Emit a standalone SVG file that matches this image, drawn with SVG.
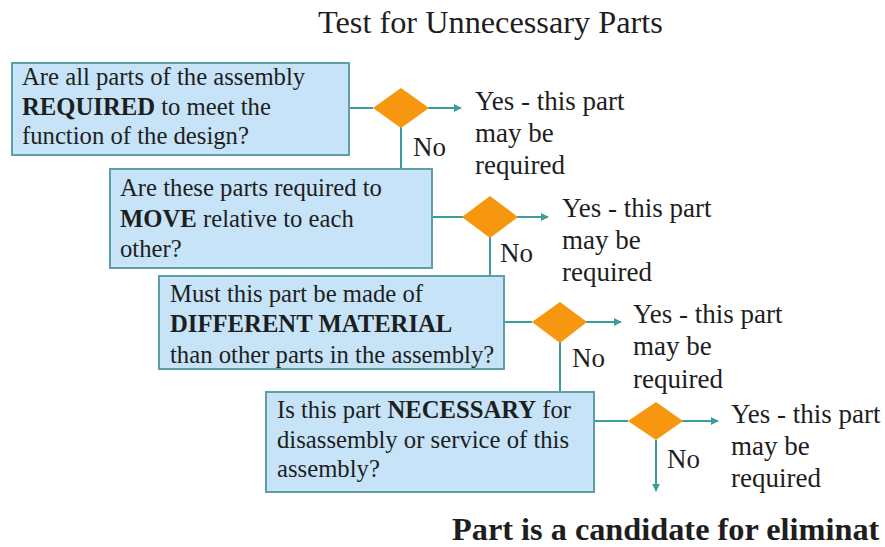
<svg xmlns="http://www.w3.org/2000/svg" width="885" height="547" viewBox="0 0 885 547">
  <style>
    .bg { fill: #ffffff; }
    .box { fill: #c6e3f8; stroke: #5f9ea8; stroke-width: 2; }
    .dia { fill: #f7960f; }
    .ln { stroke: #3b9c9c; stroke-width: 2; fill: none; }
    .t { font-family: 'Liberation Serif', 'DejaVu Serif', serif; fill: #1e1e1e; }
    .q { font-size: 24.7px; }
    .y { font-size: 27px; }
    .b { font-weight: bold; }
  </style>
  <defs>
    <marker id="arr" viewBox="0 0 10 10" refX="9" refY="5" markerWidth="4" markerHeight="4" orient="auto" markerUnits="strokeWidth">
      <path d="M0,0 L10,5 L0,10 Z" fill="#3b9c9c"/>
    </marker>
  </defs>
  <rect class="bg" x="0" y="0" width="885" height="547"/>

  <text class="t" x="318" y="33" font-size="32.3">Test for Unnecessary Parts</text>

  <g id="connectors">
    <line class="ln" x1="349" y1="108" x2="373" y2="108"/>
    <line class="ln" x1="428" y1="108" x2="461" y2="108" marker-end="url(#arr)"/>
    <line class="ln" x1="401" y1="127" x2="401" y2="169"/>
    <line class="ln" x1="432" y1="217" x2="463" y2="217"/>
    <line class="ln" x1="517" y1="217" x2="548" y2="217" marker-end="url(#arr)"/>
    <line class="ln" x1="490" y1="237" x2="490" y2="276"/>
    <line class="ln" x1="504" y1="322" x2="532" y2="322"/>
    <line class="ln" x1="586" y1="322" x2="621" y2="322" marker-end="url(#arr)"/>
    <line class="ln" x1="560" y1="342" x2="560" y2="392"/>
    <line class="ln" x1="594" y1="421" x2="628" y2="421"/>
    <line class="ln" x1="682" y1="421" x2="718" y2="421" marker-end="url(#arr)"/>
    <line class="ln" x1="656" y1="440" x2="656" y2="491" marker-end="url(#arr)"/>
  </g>

  <g id="q1">
    <rect class="box" x="12" y="63" width="337" height="92"/>
    <text class="t q" x="22" y="85">Are all parts of the assembly</text>
    <text class="t q" x="22" y="115"><tspan class="b">REQUIRED</tspan> to meet the</text>
    <text class="t q" x="22" y="144">function of the design?</text>
  </g>
  <g id="d1">
    <polygon class="dia" points="401,88 429,108 401,128 373,108"/>
  </g>
  <g id="yes1">
    <text class="t y" x="475" y="110">Yes - this part</text>
    <text class="t y" x="475" y="142">may be</text>
    <text class="t y" x="475" y="174">required</text>
  </g>
  <text id="no1" class="t y" x="413" y="156">No</text>

  <g id="q2">
    <rect class="box" x="110" y="169" width="322" height="99"/>
    <text class="t q" x="120" y="196">Are these parts required to</text>
    <text class="t q" x="120" y="227"><tspan class="b">MOVE</tspan> relative to each</text>
    <text class="t q" x="120" y="257">other?</text>
  </g>
  <g id="d2">
    <polygon class="dia" points="490,196 518,217 490,238 462,217"/>
  </g>
  <g id="yes2">
    <text class="t y" x="562" y="217">Yes - this part</text>
    <text class="t y" x="562" y="249">may be</text>
    <text class="t y" x="562" y="281">required</text>
  </g>
  <text id="no2" class="t y" x="500" y="262">No</text>

  <g id="q3">
    <rect class="box" x="159" y="276" width="345" height="93"/>
    <text class="t q" x="170" y="302">Must this part be made of</text>
    <text class="t q b" x="170" y="332">DIFFERENT MATERIAL</text>
    <text class="t q" x="170" y="363">than other parts in the assembly?</text>
  </g>
  <g id="d3">
    <polygon class="dia" points="560,302 587,322 560,343 532,322"/>
  </g>
  <g id="yes3">
    <text class="t y" x="633" y="323">Yes - this part</text>
    <text class="t y" x="633" y="355">may be</text>
    <text class="t y" x="633" y="388">required</text>
  </g>
  <text id="no3" class="t y" x="572" y="367">No</text>

  <g id="q4">
    <rect class="box" x="266" y="392" width="328" height="100"/>
    <text class="t q" x="277" y="418">Is this part <tspan class="b">NECESSARY</tspan> for</text>
    <text class="t q" x="277" y="448">disassembly or service of this</text>
    <text class="t q" x="277" y="477">assembly?</text>
  </g>
  <g id="d4">
    <polygon class="dia" points="656,402 683,421 656,440 628,421"/>
  </g>
  <g id="yes4">
    <text class="t y" x="731" y="423">Yes - this part</text>
    <text class="t y" x="731" y="455">may be</text>
    <text class="t y" x="731" y="487">required</text>
  </g>
  <text id="no4" class="t y" x="667" y="468">No</text>

  <text id="result" class="t b" x="452" y="540" font-size="32.3">Part is a candidate for eliminat</text>
</svg>
